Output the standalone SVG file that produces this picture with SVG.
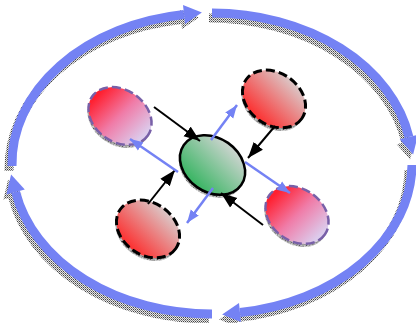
<svg xmlns="http://www.w3.org/2000/svg" width="416" height="323" viewBox="0 0 416 323">
<style>
.band{fill:none;stroke:#7482f4;stroke-width:9}
.bandsh{fill:none;stroke:url(#dither);stroke-width:9}
.head{fill:#7482f4}
.headsh{fill:url(#dither)}
.nsh{fill:url(#dither)}
.blk{fill:url(#gRed);stroke:#000;stroke-width:3;stroke-dasharray:9 4}
.pur{fill:url(#gPink);stroke:#7860a8;stroke-width:2.5;stroke-dasharray:9 4}
.grn{fill:url(#gGreen);stroke:#000;stroke-width:2.5}
.inb{stroke:#000;stroke-width:2;fill:none;marker-end:url(#mBlack)}
.outb{stroke:#7482f4;stroke-width:2.5;fill:none;marker-end:url(#mBlue)}
</style>
<defs>
<pattern id="dither" width="2" height="2" patternUnits="userSpaceOnUse">
<rect width="2" height="2" fill="#e8e8e8"/>
<rect width="1" height="1" fill="#444"/>
<rect x="1" y="1" width="1" height="1" fill="#888"/>
</pattern>
<linearGradient id="gRed" gradientUnits="userSpaceOnUse" x1="-5.2" y1="29.5" x2="5.2" y2="-29.5">
<stop offset="0" stop-color="#ff2424"/>
<stop offset="1" stop-color="#d8d4d4"/>
</linearGradient>
<linearGradient id="gGreen" gradientUnits="userSpaceOnUse" x1="-5.2" y1="29.5" x2="5.2" y2="-29.5">
<stop offset="0" stop-color="#2fb35c"/>
<stop offset="1" stop-color="#d6d6d6"/>
</linearGradient>
<linearGradient id="gPink" gradientUnits="userSpaceOnUse" x1="-30" y1="-5.2" x2="30" y2="5.2">
<stop offset="0" stop-color="#ff2030"/>
<stop offset="0.5" stop-color="#f07ca8"/>
<stop offset="1" stop-color="#dccbec"/>
</linearGradient>
<marker id="mBlack" markerUnits="userSpaceOnUse" markerWidth="17" markerHeight="13" refX="16" refY="6" orient="auto" viewBox="0 0 17 12">
<path d="M0,0 L16,6 L0,12 z" fill="#000"/>
</marker>
<marker id="mBlue" markerUnits="userSpaceOnUse" markerWidth="14" markerHeight="12" refX="13" refY="5" orient="auto" viewBox="0 0 14 10">
<path d="M0,0 L13,5 L0,10 z" fill="#7482f4"/>
</marker>
</defs>
<rect width="416" height="323" fill="#fff"/>

<g id="cycle">
<g id="cycle-shadow" transform="translate(-3,5)">
<path class="bandsh" d="M 12 166 A 200 150.5 0 0 1 184 14.5"/>
<polygon class="headsh" points="201.9,12.6 185,23.9 183,5.1"/>
<path class="bandsh" d="M 212 13 A 200 150.5 0 0 1 408.9 137"/>
<polygon class="headsh" points="413.1,154.5 418.1,134.8 399.7,139.2"/>
<path class="bandsh" d="M 412 165 A 200 150.5 0 0 1 240 312.5"/>
<polygon class="headsh" points="222.1,314.4 241,321.9 239,303.1"/>
<path class="bandsh" d="M 212 314 A 200 150.5 0 0 1 15.6 192"/>
<polygon class="headsh" points="11.1,174.6 24.8,189.6 6.4,194.4"/>
</g>
<path class="band" d="M 12 166 A 200 150.5 0 0 1 184 14.5"/>
<polygon class="head" points="201.9,12.6 185,23.9 183,5.1"/>
<path class="band" d="M 212 13 A 200 150.5 0 0 1 408.9 137"/>
<polygon class="head" points="413.1,154.5 418.1,134.8 399.7,139.2"/>
<path class="band" d="M 412 165 A 200 150.5 0 0 1 240 312.5"/>
<polygon class="head" points="222.1,314.4 241,321.9 239,303.1"/>
<path class="band" d="M 212 314 A 200 150.5 0 0 1 15.6 192"/>
<polygon class="head" points="11.1,174.6 24.8,189.6 6.4,194.4"/>
</g>

<g id="node-topleft">
<ellipse class="nsh" rx="34" ry="26" transform="translate(119,119) rotate(35)"/>
<ellipse class="pur" rx="34" ry="26" transform="translate(120,116) rotate(35)"/>
</g>
<g id="node-topright">
<ellipse class="nsh" rx="34" ry="26" transform="translate(273,102) rotate(35)"/>
<ellipse class="blk" rx="34" ry="26" transform="translate(274,99) rotate(35)"/>
</g>
<g id="node-bottomleft">
<ellipse class="nsh" rx="34" ry="26" transform="translate(147,232) rotate(35)"/>
<ellipse class="blk" rx="34" ry="26" transform="translate(148,229) rotate(35)"/>
</g>
<g id="node-bottomright">
<ellipse class="nsh" rx="34" ry="26" transform="translate(296,218) rotate(35)"/>
<ellipse class="pur" rx="34" ry="26" transform="translate(297,215) rotate(35)"/>
</g>
<g id="node-center">
<ellipse class="nsh" rx="35" ry="27" transform="translate(211.5,168) rotate(35)"/>
<ellipse class="grn" rx="35" ry="27" transform="translate(212.5,165) rotate(35)"/>
</g>

<g id="connectors">
<line class="inb" x1="154" y1="107" x2="200" y2="141"/>
<line class="inb" x1="275" y1="126" x2="248" y2="158"/>
<line class="inb" x1="148" y1="204" x2="175" y2="170"/>
<line class="inb" x1="263" y1="225" x2="221" y2="193"/>
<line class="outb" x1="211" y1="140" x2="237" y2="105"/>
<line class="outb" x1="178" y1="172" x2="130" y2="139"/>
<line class="outb" x1="245" y1="162" x2="290" y2="193"/>
<line class="outb" x1="213" y1="188" x2="187" y2="223"/>
</g>
</svg>
